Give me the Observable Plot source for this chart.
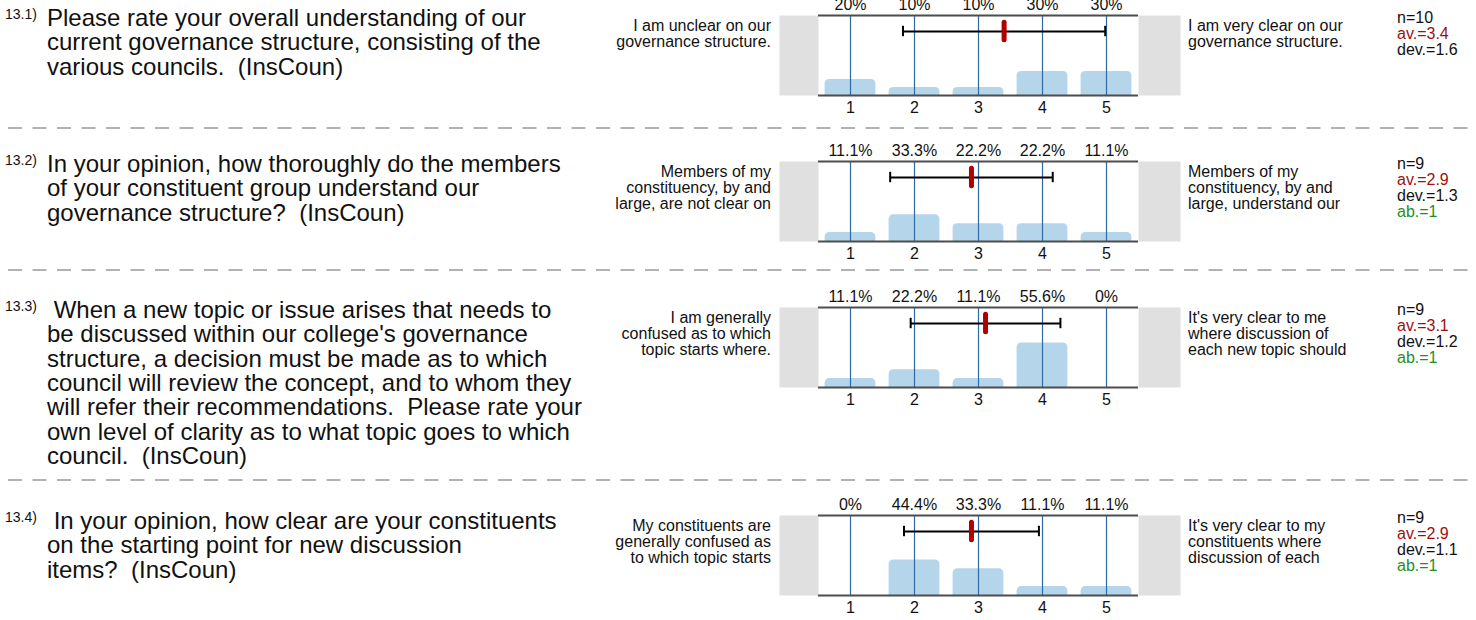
<!DOCTYPE html>
<html><head><meta charset="utf-8">
<script src="https://cdn.jsdelivr.net/npm/d3@7"></script>
<script src="https://cdn.jsdelivr.net/npm/@observablehq/plot@0.6"></script>
<style>
html,body{margin:0;padding:0;background:#fff;}
#page{position:relative;width:1476px;height:620px;overflow:hidden;font-family:"Liberation Sans",Arial,sans-serif;color:#111;}
.q{position:absolute;left:47px;font-size:24px;line-height:24.4px;white-space:pre;}
.qn{position:absolute;left:5px;font-size:14px;line-height:14px;}
.al{position:absolute;right:705px;text-align:right;font-size:16px;line-height:15.8px;white-space:pre;}
.ar{position:absolute;left:1188px;text-align:left;font-size:16px;line-height:15.8px;white-space:pre;}
.st{position:absolute;left:1397px;font-size:16px;line-height:16px;white-space:pre;}
.chart{position:absolute;left:779px;}
#seps{position:absolute;left:0;top:0;}
</style></head>
<body><div id="page"></div>
<script>
// ---------- data ----------
const questionNumbers = ["13.1)", "13.2)", "13.3)", "13.4)"];
const questionLines = [
  ["Please rate your overall understanding of our", "current governance structure, consisting of the", "various councils.  (InsCoun)"],
  ["In your opinion, how thoroughly do the members", "of your constituent group understand our", "governance structure?  (InsCoun)"],
  [" When a new topic or issue arises that needs to", "be discussed within our college's governance", "structure, a decision must be made as to which", "council will review the concept, and to whom they", "will refer their recommendations.  Please rate your", "own level of clarity as to what topic goes to which", "council.  (InsCoun)"],
  [" In your opinion, how clear are your constituents", "on the starting point for new discussion", "items?  (InsCoun)"]
];
const leftAnchors = [
  ["I am unclear on our", "governance structure."],
  ["Members of my", "constituency, by and", "large, are not clear on"],
  ["I am generally", "confused as to which", "topic starts where."],
  ["My constituents are", "generally confused as", "to which topic starts"]
];
const rightAnchors = [
  ["I am very clear on our", "governance structure."],
  ["Members of my", "constituency, by and", "large, understand our"],
  ["It's very clear to me", "where discussion of", "each new topic should"],
  ["It's very clear to my", "constituents where", "discussion of each"]
];
const scaleCategories = [1, 2, 3, 4, 5];
const pctQ1 = [20, 10, 10, 30, 30];
const pctQ2 = [11.1, 33.3, 22.2, 22.2, 11.1];
const pctQ3 = [11.1, 22.2, 11.1, 55.6, 0];
const pctQ4 = [0, 44.4, 33.3, 11.1, 11.1];
const nValues = [10, 9, 9, 9];
const averages = [3.4, 2.89, 3.11, 2.89];
const deviations = [1.58, 1.27, 1.17, 1.054];
const abstentions = [null, 1, 1, 1];

// ---------- layout ----------
const frameTops = [15, 161, 307, 515];
const questionLineY = [18, 164, 310, 521];
const separatorsY = [128, 270, 480];
const FONT = '"Liberation Sans",Arial,sans-serif';
const ERR_Y = 80;

const page = document.getElementById("page");
const percents = [pctQ1, pctQ2, pctQ3, pctQ4];

function div(cls, top, text, color) {
  const d = document.createElement("div");
  d.className = cls;
  d.style.top = top + "px";
  if (color) d.style.color = color;
  d.textContent = text;
  page.appendChild(d);
  return d;
}

percents.forEach((pcts, i) => {
  const ft = frameTops[i];
  div("qn", questionLineY[i] - 11, questionNumbers[i]);
  div("q", questionLineY[i] - 12.2, questionLines[i].join("\n"));
  div("al", ft + 11 - 7.9, leftAnchors[i].join("\n"));
  div("ar", ft + 11 - 7.9, rightAnchors[i].join("\n"));
  const st = document.createElement("div");
  st.className = "st";
  st.style.top = (ft + 3 - 8) + "px";
  const lines = [["n=" + nValues[i], "#111"], ["av.=" + averages[i].toFixed(1), "#9b1111"], ["dev.=" + deviations[i].toFixed(1), "#111"]];
  if (abstentions[i] != null) lines.push(["ab.=" + abstentions[i], "#1f8f1f"]);
  lines.forEach(([t, c]) => { const s = document.createElement("div"); s.textContent = t; s.style.color = c; st.appendChild(s); });
  page.appendChild(st);

  const rows = scaleCategories.map((c, k) => ({cat: c, pct: pcts[k]}));
  const mean = averages[i], dev = deviations[i];
  const chart = Plot.plot({
    width: 401, height: 130,
    marginLeft: 39, marginRight: 42, marginTop: 25, marginBottom: 25,
    x: {domain: [0.5, 5.5], axis: null},
    y: {domain: [0, 100], axis: null},
    style: {fontFamily: FONT, fontSize: "16px", background: "transparent", overflow: "visible", color: "#111"},
    marks: [
      Plot.frame({fill: "#e0e0e0", stroke: "none", insetLeft: -39, insetRight: -42}),
      Plot.frame({fill: "white", stroke: "none"}),
      Plot.rect(rows, {x1: d => d.cat - 0.5, x2: d => d.cat + 0.5, y1: 0, y2: "pct", insetLeft: 6.6, insetRight: 6.6, insetBottom: -6, rx: 4.5, fill: "#b5d5eb", clip: true}),
      Plot.ruleX(scaleCategories, {stroke: "#2d6aa5", strokeWidth: 1.2}),
      Plot.ruleY([0, 100], {stroke: "#4d4d4d", strokeWidth: 2}),
      Plot.text(rows, {x: "cat", frameAnchor: "top", lineAnchor: "middle", dy: -11, text: d => d.pct + "%", fill: "#111", fontSize: 16}),
      Plot.text(scaleCategories, {x: d => d, frameAnchor: "bottom", lineAnchor: "middle", dy: 12, text: d => String(d), fill: "#111", fontSize: 16}),
      Plot.ruleY([{lo: mean - dev, hi: mean + dev}], {x1: "lo", x2: "hi", y: ERR_Y, stroke: "#000", strokeWidth: 2}),
      Plot.ruleX([mean - dev, mean + dev], {x: d => d, y1: ERR_Y - 6.5, y2: ERR_Y + 6.5, stroke: "#000", strokeWidth: 2}),
      Plot.ruleX([mean], {x: d => d, y1: ERR_Y - 11, y2: ERR_Y + 11, stroke: "#b00000", strokeWidth: 5, strokeLinecap: "round"})
    ]
  });
  const holder = document.createElement("div");
  holder.className = "chart";
  holder.style.top = (ft - 25) + "px";
  holder.appendChild(chart);
  page.appendChild(holder);
});

// dashed separators
const svg = d3.select(page).append("svg").attr("id", "seps").attr("width", 1476).attr("height", 620);
svg.selectAll("line").data(separatorsY).join("line")
  .attr("x1", 8).attr("x2", 1476).attr("y1", d => d).attr("y2", d => d)
  .attr("stroke", "#999").attr("stroke-width", 1.5).attr("stroke-dasharray", "14,10.5");
</script>
</body></html>
